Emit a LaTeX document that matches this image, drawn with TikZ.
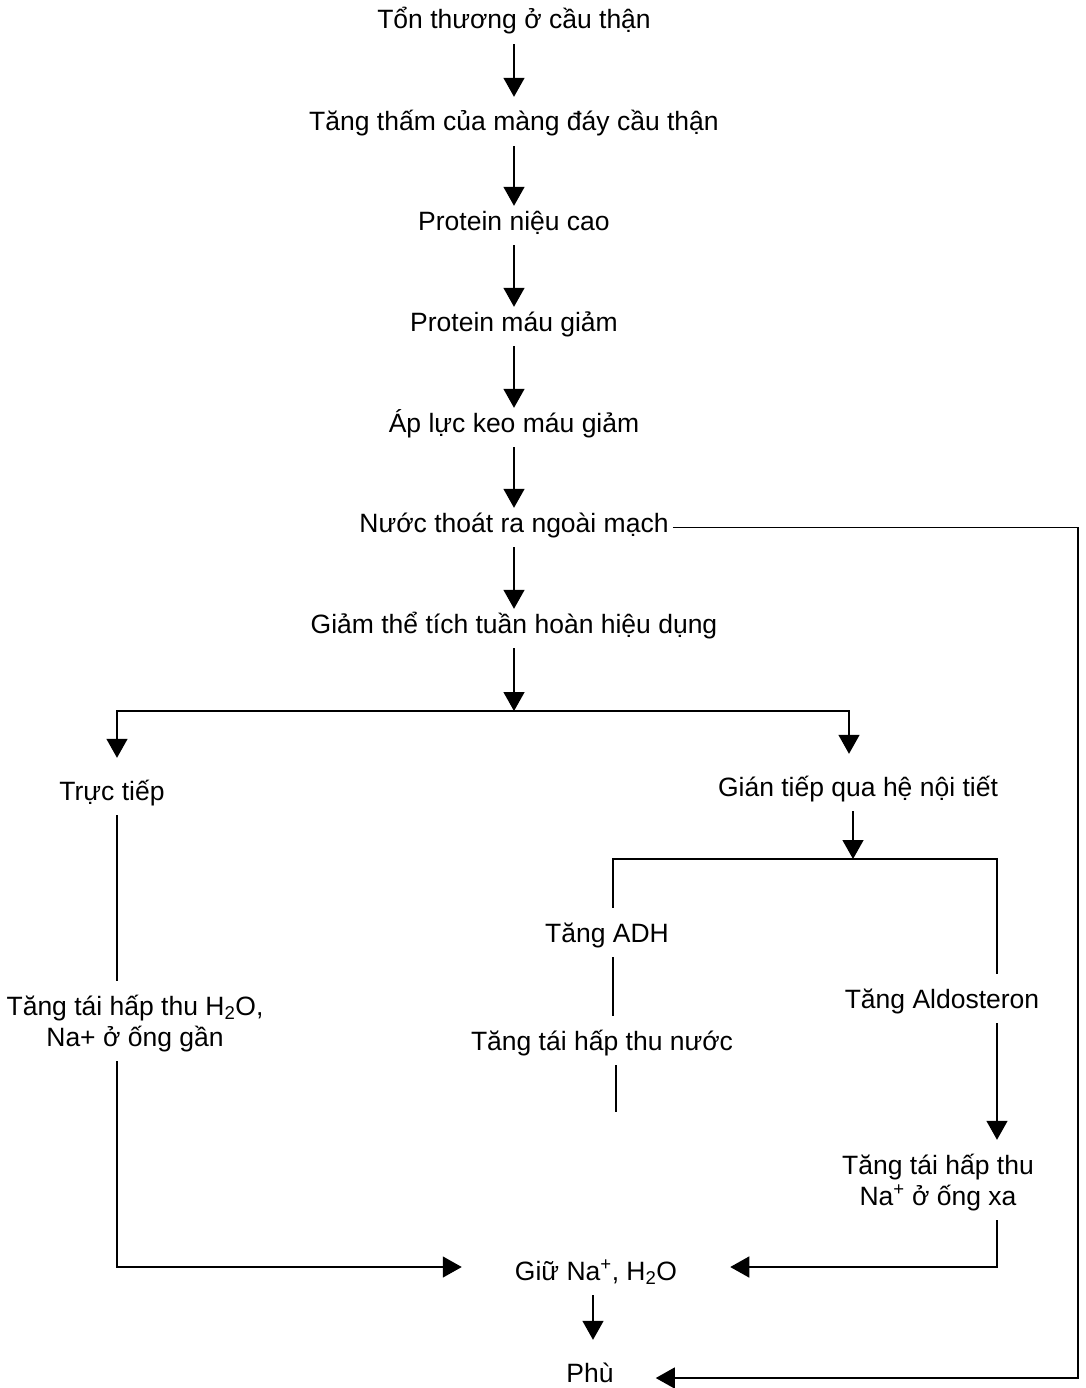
\documentclass[tikz,border=0pt]{standalone}
\usepackage{fontspec}
\setmainfont{Liberation Sans}
\usetikzlibrary{arrows.meta}

\tikzset{
  txt/.style={font=\fontsize{26.5}{31}\selectfont, text height=26pt, text depth=7pt, inner xsep=4pt, inner ysep=8pt, align=center, anchor=base},
  low/.style={txt, text height=16pt},
  high/.style={txt, text height=34pt},
  two/.style={txt, text height=57pt},
  ln/.style={line width=1.4pt},
  arr/.style={ln, -{Triangle[length=19pt,width=21pt]}}
}

\begin{document}
\begin{tikzpicture}[x=1pt, y=-1pt]
\useasboundingbox (0,0) rectangle (1085,1388);
% main chain
\node[txt] (ton) at (514,29) {Tổn thương ở cầu thận};
\node[txt] (tham) at (514,131) {Tăng thấm của màng đáy cầu thận};
\node[low] (pnieu) at (514,230) {Protein niệu cao};
\node[low] (pmau) at (514,331) {Protein máu giảm};
\node[low] (apluc) at (514,432) {Áp lực keo máu giảm};
\node[low] (nuoc) at (514,532) {Nước thoát ra ngoài mạch};
\node[low] (giam) at (514,633) {Giảm thể tích tuần hoàn hiệu dụng};
\foreach \a/\b in {ton/tham, tham/pnieu, pnieu/pmau, pmau/apluc, apluc/nuoc, nuoc/giam} { \draw[arr] (\a) -- (\b); }
% two branches
\node[high] (tructiep) at (112,800) {Trực tiếp};
\node[high] (giantiep) at (858,796) {Gián tiếp qua hệ nội tiết};
\coordinate (br) at (514,711); \coordinate (xl) at (117,0); \coordinate (xr) at (849,0);
\draw[arr] (giam) -- (br); \draw[arr] (br) -| (xl |- tructiep.north); \draw[arr] (br) -| (xr |- giantiep.north);
% direct branch
\node[two] (ongan) at (135,1046) {Tăng tái hấp thu H\textsubscript{2}O,\\Na+ ở ống gần};
\draw[ln] (xl |- tructiep.south) -- (xl |- ongan.north);
% hormone branch
\node[txt] (adh) at (607,942) {Tăng ADH};
\node[txt] (taihap) at (602,1050) {Tăng tái hấp thu nước};
\node[txt] (aldo) at (942,1008) {Tăng Aldosteron};
\node[two] (ongxa) at (938,1205) {Tăng tái hấp thu\\Na\textsuperscript{+} ở ống xa};
\coordinate (br2) at (853,859); \coordinate (xa) at (613,0); \coordinate (xr2) at (997,0);
\coordinate (cut) at (616,1112);
\draw[arr] (giantiep.south -| br2) -- (br2);
\draw[ln] (br2) -| (xa |- adh.north); \draw[ln] (br2) -| (xr2 |- aldo.north);
\draw[ln] (xa |- adh.south) -- (xa |- taihap.north); \draw[ln] (taihap.south -| cut) -- (cut);
\draw[arr] (xr2 |- aldo.south) -- (xr2 |- ongxa.north);
% retention and oedema
\node[txt, text height=33pt, inner xsep=53pt] (giu) at (596,1280) {Giữ Na\textsuperscript{+}, H\textsubscript{2}O};
\node[txt, text height=34pt, text depth=26pt, inner xsep=42pt] (phu) at (590,1382) {Phù};
\coordinate (xfar) at (1078,0);
\draw[arr] (xl |- ongan.south) |- (giu.west); \draw[arr] (xr2 |- ongxa.south) |- (giu.east);
\draw[arr] (giu.south -| 593,0) -- (phu.north -| 593,0);
\draw[arr] (nuoc.east) -- (nuoc.east -| xfar) |- (phu.east);
\end{tikzpicture}
\end{document}
